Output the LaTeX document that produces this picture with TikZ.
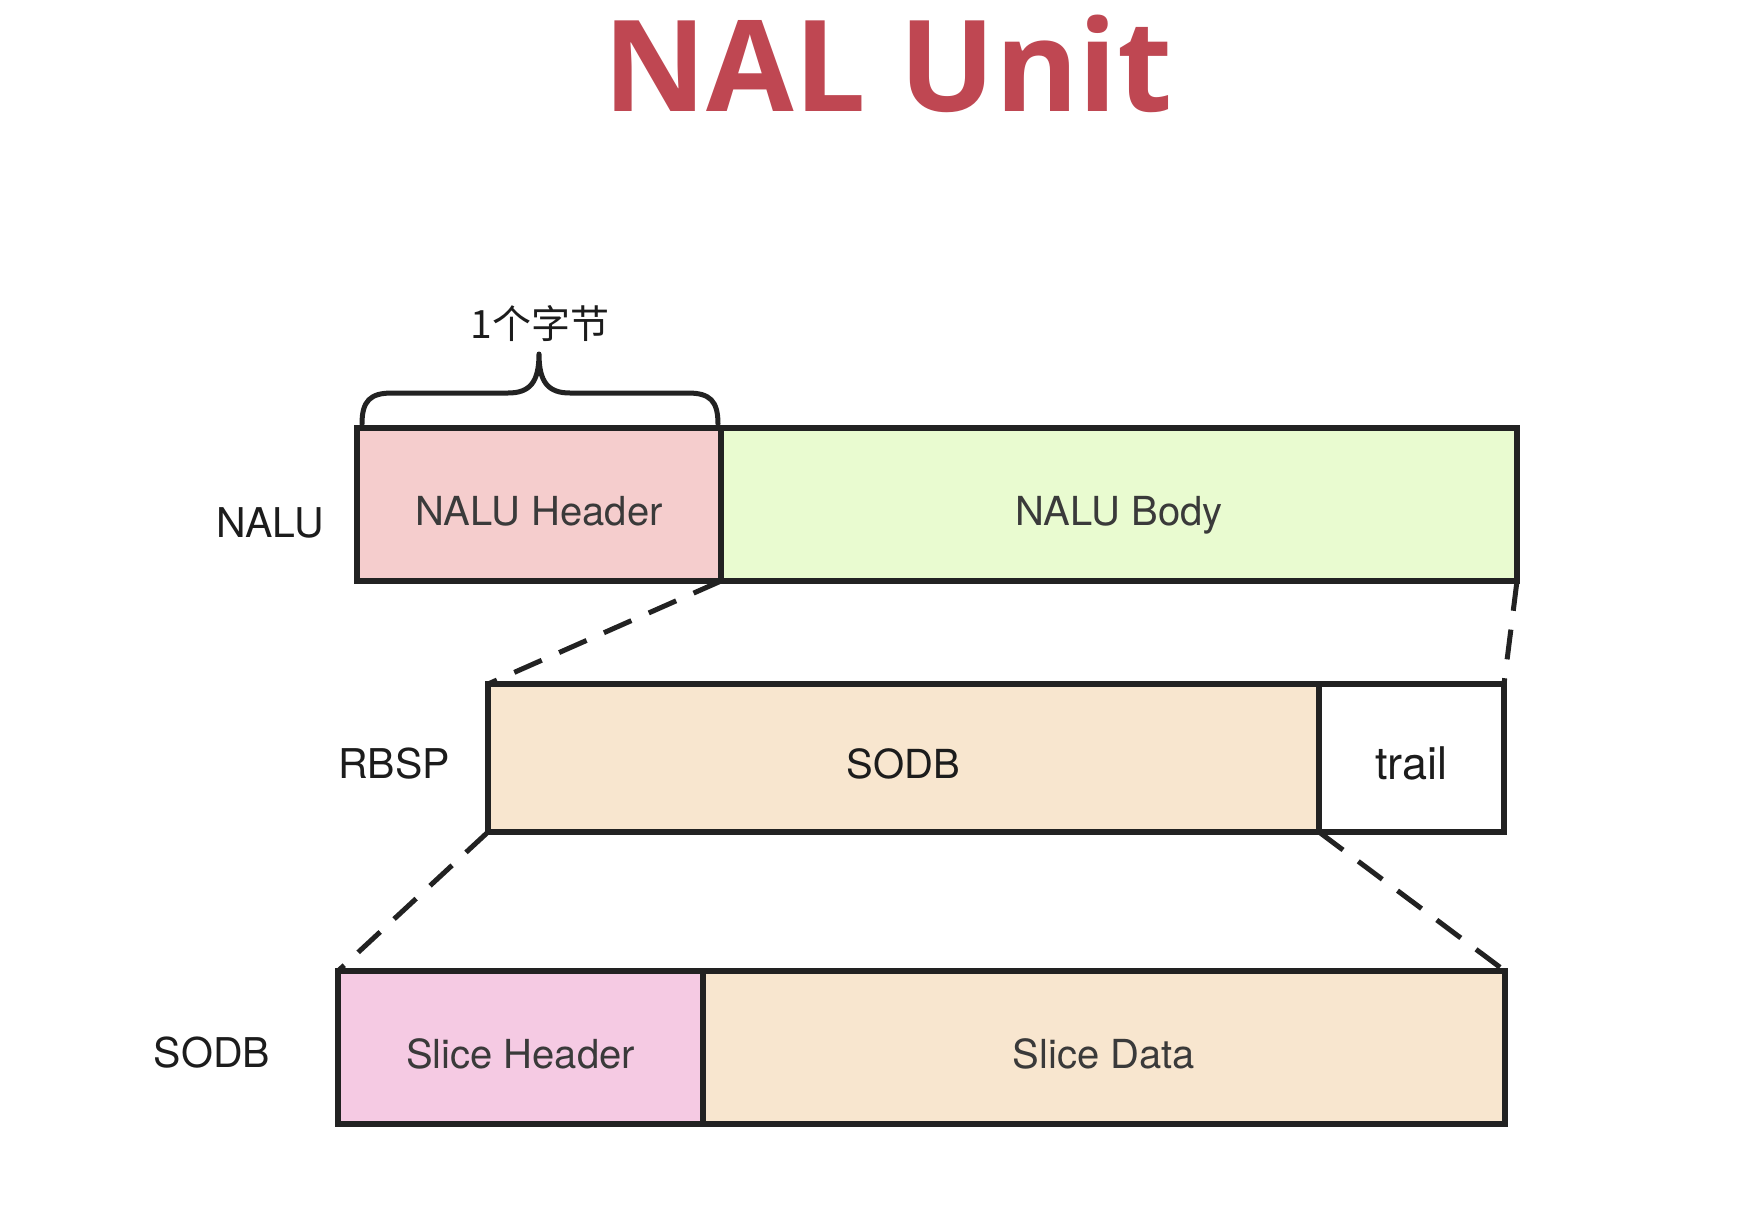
\documentclass[tikz,border=0pt]{standalone}
\usepackage{fontspec}
\setmainfont{TeX Gyre Heros}
\newfontfamily\titlefont{Open Sans}
\newfontfamily\cjkfont{Noto Sans CJK SC}
\definecolor{titlered}{HTML}{BF4752}
\definecolor{linec}{HTML}{222222}
\definecolor{hpink}{HTML}{F5CDCD}
\definecolor{bgreen}{HTML}{E9FBD0}
\definecolor{peach}{HTML}{F8E6CF}
\definecolor{spink}{HTML}{F5CAE3}
\definecolor{boxtext}{HTML}{3A3A3A}
\definecolor{labtext}{HTML}{1C1C1C}
\begin{document}
\begin{tikzpicture}[x=1pt,y=-1pt,
  cell/.style={draw=linec, line width=5.5pt, inner sep=0pt, outer sep=0pt,
    minimum height=153pt, anchor=north west,
    font=\fontsize{40}{48}\selectfont, text=boxtext,
    text height=41pt, text depth=0pt},
  sidelabel/.style={inner sep=0pt, font=\fontsize{41}{49}\selectfont, text=labtext,
    text height=42pt, text depth=0pt},
  dashline/.style={draw=linec, line width=5pt, dash pattern=on 30pt off 19pt},
  bracestyle/.style={draw=linec, line width=5pt, line cap=round, line join=round}]
\useasboundingbox (0,0) rectangle (1754,1226);
\fill[white] (0,0) rectangle (1754,1226);

% title
\node[inner sep=0pt, text=titlered, font=\titlefont\bfseries\fontsize{127}{140}\selectfont,
  text height=91pt, text depth=0pt] (title) at (888,66) {NAL Unit};

% NALU row
\node[cell, fill=hpink, minimum width=364pt] (nhdr) at (357,428) {NALU Header};
\node[cell, fill=bgreen, minimum width=796pt] (nbody) at (721,428) {NALU Body};
% RBSP row
\node[cell, fill=peach, minimum width=831pt, minimum height=148pt, text=labtext] (rsodb) at (488,684) {SODB};
\node[cell, fill=white, minimum width=185pt, minimum height=148pt, text=labtext,
  font=\fontsize{45}{52}\selectfont, text height=43pt] (rtrail) at (1319,684) {trail};
% SODB row
\node[cell, fill=spink, minimum width=365pt] (shdr) at (338,971) {Slice Header};
\node[cell, fill=peach, minimum width=802pt] (sdata) at (703,971) {Slice Data};

% side labels
\node[sidelabel] (lnalu) at (270,516) {NALU};
\node[sidelabel] (lrbsp) at (394,757) {RBSP};
\node[sidelabel] (lsodb) at (212,1046) {SODB};

% brace and its label
\draw[bracestyle] (362,424) .. controls (362,401) and (370,393) .. (392,393)
  -- (508,393) .. controls (530,393) and (539,382) .. (539,354)
  .. controls (539,382) and (548,393) .. (570,393)
  -- (688,393) .. controls (710,393) and (718,401) .. (718,424);
\node[inner sep=0pt, font=\cjkfont\fontsize{39}{46}\selectfont, text=labtext] (bytes) at (540,324) {1个字节};

% dashed expansion lines
\draw[dashline] (nhdr.south east) -- (rsodb.north west);
\draw[dashline] (nbody.south east) -- (rtrail.north east);
\draw[dashline] (rsodb.south west) -- (shdr.north west);
\draw[dashline] (rsodb.south east) -- (sdata.north east);
\end{tikzpicture}
\end{document}
